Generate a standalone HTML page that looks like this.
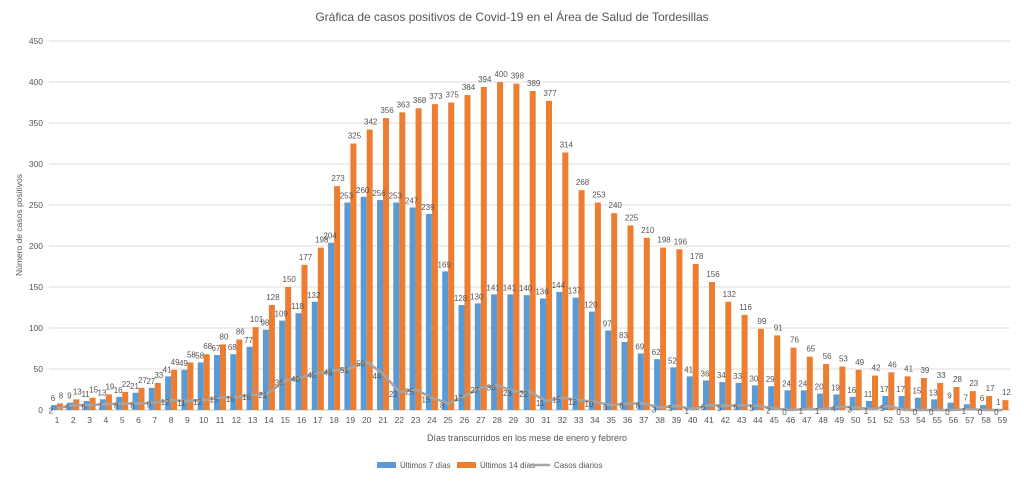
<!DOCTYPE html>
<html><head><meta charset="utf-8"><style>
html,body{margin:0;padding:0;background:#fff;}
svg{display:block;font-family:"Liberation Sans",sans-serif;}
</style></head><body>
<svg id="c" width="1024" height="482" xmlns="http://www.w3.org/2000/svg"></svg>
<script>
const B=[6,9,11,13,16,21,27,41,49,58,67,68,77,98,109,118,132,204,253,260,256,253,247,239,169,128,130,141,141,140,136,144,137,120,97,83,69,62,52,41,36,34,33,30,29,24,24,20,19,16,11,17,17,15,13,9,7,6,1];
const O=[8,13,15,19,22,27,33,49,58,68,80,86,101,128,150,177,198,273,325,342,356,363,368,373,375,384,394,400,398,389,377,314,268,253,240,225,210,198,196,178,156,132,116,99,91,76,65,56,53,49,42,46,41,39,33,28,23,17,12];
const D=[2,6,6,7,8,8,9,12,11,12,15,16,18,21,36,40,45,48,51,59,44,22,25,15,8,17,27,30,23,22,11,15,12,10,6,8,8,3,5,1,6,5,6,5,2,0,1,1,4,3,1,5,0,0,0,0,1,0,0];
const base=410,k=0.82,x0=57,dx=16.3;
const Y=v=>base-v*k, X=i=>x0+i*dx;
let s='';
s+='<rect width="1024" height="482" fill="#fff"/>';
s+='<text x="512" y="21" text-anchor="middle" font-size="12" fill="#555">Gráfica de casos positivos de Covid-19 en el Área de Salud de Tordesillas</text>';
for(let v=0;v<=450;v+=50){const y=Y(v);s+=`<line x1="49" x2="1010" y1="${y}" y2="${y}" stroke="${v?'#dcdcdc':'#c8c8c8'}" stroke-width="1"/>`;s+=`<text x="43" y="${y+3}" text-anchor="end" font-size="8.5" fill="#555">${v}</text>`;}
s+='<text transform="translate(22,225) rotate(-90)" text-anchor="middle" font-size="8.5" fill="#555">Número de casos positivos</text>';
for(let i=0;i<59;i++){const x=X(i);
s+=`<rect x="${x-6}" y="${Y(B[i])}" width="6" height="${B[i]*k}" fill="#5b9bd5"/>`;
s+=`<rect x="${x}" y="${Y(O[i])}" width="6" height="${O[i]*k}" fill="#ed7d31"/>`;
s+=`<text x="${x}" y="423" text-anchor="middle" font-size="8.5" fill="#555">${i+1}</text>`;
s+=`<text x="${x-4}" y="${Y(B[i])-4}" text-anchor="middle" font-size="8" fill="#555">${B[i]}</text>`;
s+=`<text x="${x+4}" y="${Y(O[i])-5}" text-anchor="middle" font-size="8" fill="#555">${O[i]}</text>`;}
let p=D.map((v,i)=>`${X(i)},${Y(v)}`).join(' ');
s+=`<polyline points="${p}" fill="none" stroke="#a5a5a5" stroke-width="2.5" stroke-linejoin="round"/>`;
for(let i=0;i<59;i++){s+=`<text x="${X(i)-6}" y="${Y(D[i])+5}" text-anchor="middle" font-size="8" fill="#555">${D[i]}</text>`;}
s+='<text x="527" y="441" text-anchor="middle" font-size="9" fill="#555">Días transcurridos en los mese de enero y febrero</text>';
s+='<rect x="377" y="462" width="19" height="6" fill="#5b9bd5"/><text x="400" y="468" font-size="8" fill="#555">Últimos 7 días</text>';
s+='<rect x="457" y="462" width="19" height="6" fill="#ed7d31"/><text x="480" y="468" font-size="8" fill="#555">Últimos 14 días</text>';
s+='<line x1="530" x2="550" y1="465" y2="465" stroke="#a5a5a5" stroke-width="2.5"/><text x="554" y="468" font-size="8" fill="#555">Casos diarios</text>';
document.getElementById('c').innerHTML=s;
</script>
</body></html>
